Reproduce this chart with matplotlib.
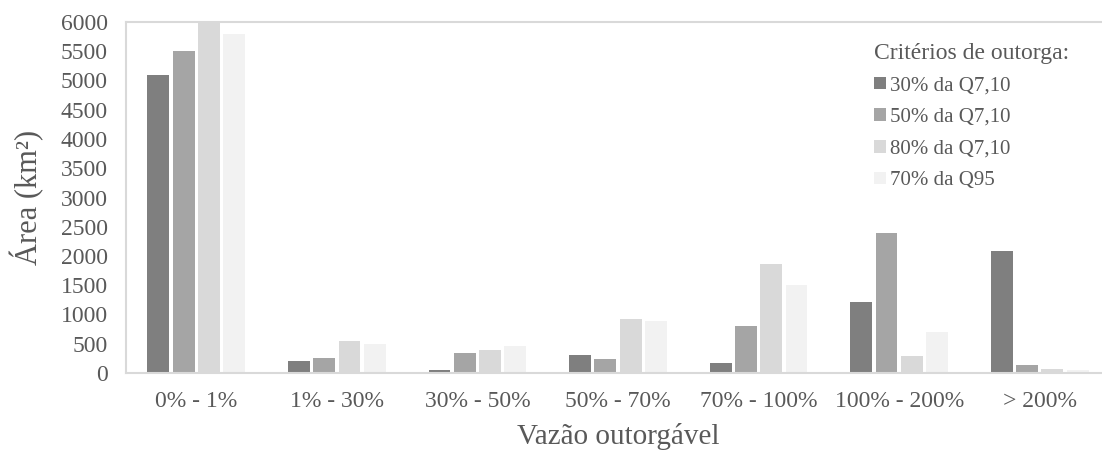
import matplotlib.pyplot as plt
import numpy as np

plt.rcParams['font.family'] = ['Liberation Serif', 'DejaVu Serif']

categories = ['0% - 1%', '1% - 30%', '30% - 50%', '50% - 70%', '70% - 100%', '100% - 200%', '> 200%']
series_names = ['30% da Q7,10', '50% da Q7,10', '80% da Q7,10', '70% da Q95']
q710_30 = [5100, 200, 50, 300, 170, 1220, 2090]
q710_50 = [5500, 250, 340, 240, 810, 2390, 130]
q710_80 = [6100, 550, 390, 930, 1860, 290, 60]
q95_70 = [5800, 500, 470, 890, 1510, 700, 55]
colors = ['#7f7f7f', '#a5a5a5', '#d9d9d9', '#f2f2f2']

text_color = '#595959'
series = [q710_30, q710_50, q710_80, q95_70]

fig = plt.figure(figsize=(11.02, 4.54), dpi=100)
# plot area runs a little past the right edge of the picture
ax = fig.add_axes([126 / 1102, 1 - 373 / 454, 984 / 1102, 351 / 454])

x = np.arange(len(categories))
offsets = (np.arange(4) - 1.5) * 0.18
for vals, off, col, name in zip(series, offsets, colors, series_names):
    ax.bar(x + off, vals, width=0.155, color=col, label=name, zorder=2)

ax.set_xlim(-0.5, len(categories) - 0.5)
ax.set_ylim(0, 6000)
ax.set_yticks(np.arange(0, 6001, 500))
ax.set_xticks(x)
ax.set_xticklabels(categories)
ax.tick_params(axis='both', length=0, labelsize=17, colors=text_color)
ax.tick_params(axis='x', pad=13)
ax.tick_params(axis='y', pad=13)

for side in ['left', 'bottom', 'top']:
    ax.spines[side].set_color('#d9d9d9')
    ax.spines[side].set_linewidth(1.5)
ax.spines['right'].set_visible(False)

ax.set_ylabel('Área (km²)', fontsize=22, color=text_color, labelpad=12)
ax.set_xlabel('Vazão outorgável', fontsize=21, color=text_color, labelpad=8)

leg = ax.legend(title='Critérios de outorga:', loc='upper left',
                bbox_to_anchor=(740 / 984, 0.965), frameon=False,
                fontsize=15, title_fontsize=17, handlelength=0.55, handleheight=0.55,
                handletextpad=0.2, labelspacing=0.61, borderaxespad=0)
leg._legend_box.align = 'left'
leg.get_title().set_color(text_color)
for t in leg.get_texts():
    t.set_color(text_color)

fig.savefig('out.png', dpi=100)
